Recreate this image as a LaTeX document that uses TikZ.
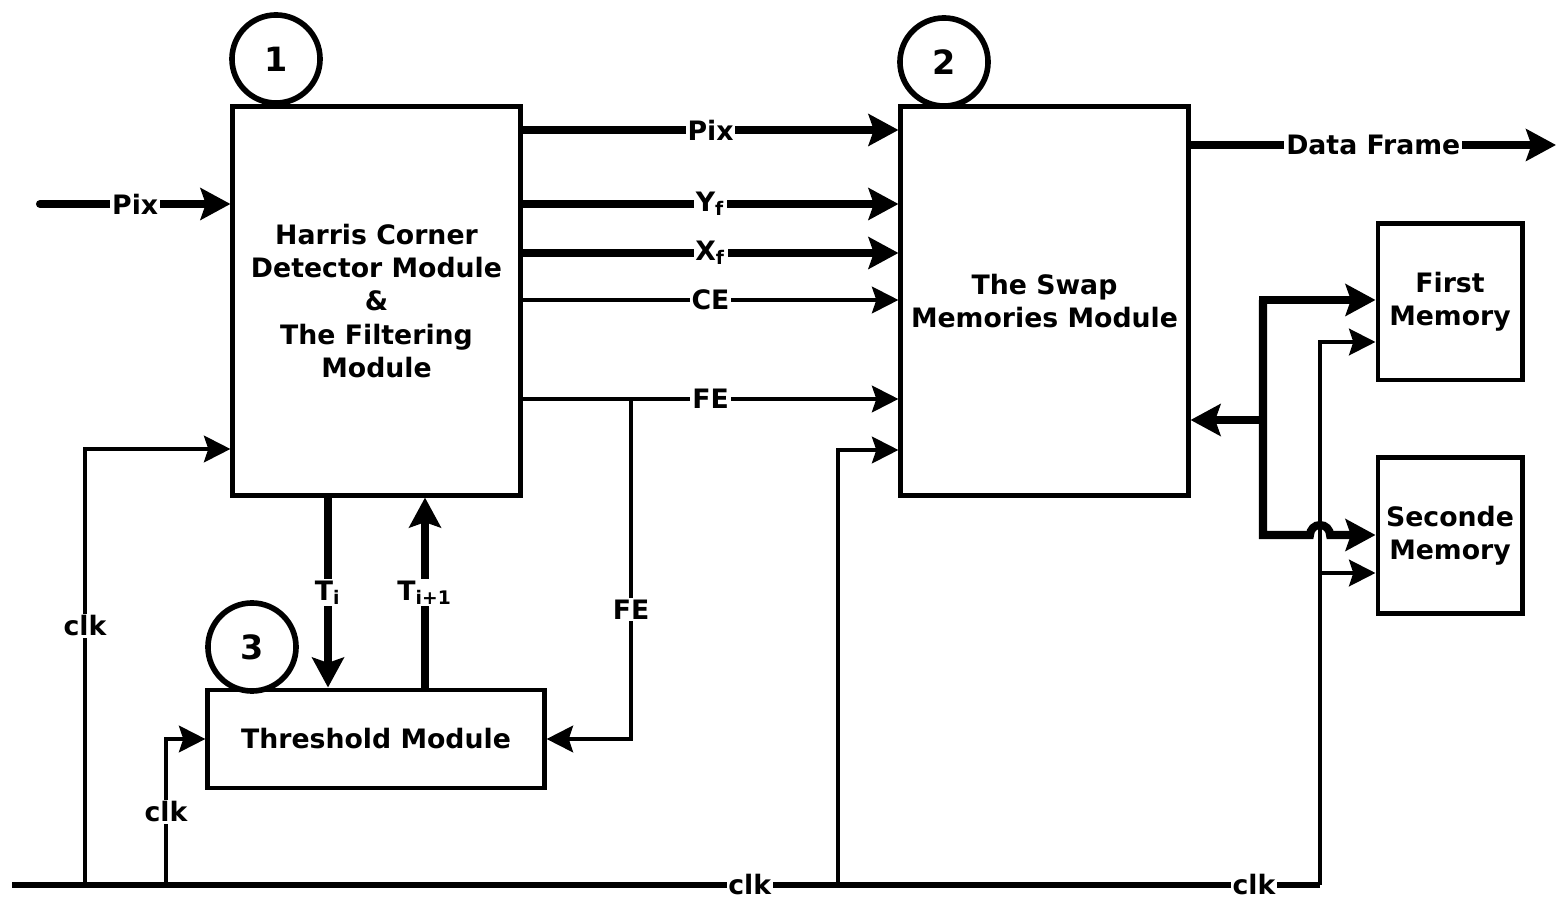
\documentclass[tikz,border=0pt]{standalone}
\usepackage{fontspec}
\setmainfont{DejaVu Sans}
\usetikzlibrary{arrows.meta}

\begin{document}
\begin{tikzpicture}[
  x=0.01cm, y=-0.01cm,
  every node/.style={font=\fontsize{7.6}{9.4}\selectfont\bfseries},
  block/.style={rectangle, draw=black, line width=1.4pt, fill=white, align=center, inner sep=2pt},
  num/.style={circle, draw=black, line width=1.6pt, fill=white, inner sep=0pt, minimum size=0.88cm, font=\fontsize{9.5}{11}\selectfont\bfseries},
  lbl/.style={fill=white, inner sep=0.5pt},
  wire/.style={line width=1.3pt, -{Stealth[length=7.5pt, width=7.5pt, inset=1.2pt]}},
  bus/.style={line width=2.3pt, -{Stealth[length=8.5pt, width=9pt, inset=1.5pt]}},
  clkbus/.style={line width=1.7pt}
]
  \useasboundingbox (0,0) rectangle (1558,898);

  \node[block, minimum width=2.87cm, minimum height=3.88cm] (harris) at (376.5,301) {Harris Corner\\Detector Module\\\&\\The Filtering\\Module};
  \node[block, minimum width=2.87cm, minimum height=3.88cm] (swap) at (1044.5,301) {The Swap\\Memories Module};
  \node[block, minimum width=3.36cm, minimum height=0.98cm] (thresh) at (376,739) {Threshold Module};
  \node[block, minimum width=1.44cm, minimum height=1.56cm] (mem1) at (1450,302) {First\\Memory};
  \node[block, minimum width=1.44cm, minimum height=1.55cm] (mem2) at (1450,535.5) {Seconde\\Memory};

  \node[num] (n1) at (276,59) {1};
  \node[num] (n2) at (944,62) {2};
  \node[num] (n3) at (252,647) {3};

  \coordinate (pixin) at (40,204);
  \coordinate (dfout) at (1556,145);
  \coordinate (fesplit) at (631,399);
  \coordinate (clkstart) at (12,885);
  \coordinate (clkend) at (1320,885);
  \coordinate (clka) at (85,885);
  \coordinate (clkb) at (166,885);
  \coordinate (clkc) at (838,885);
  \coordinate (mbus) at (1263,420);

  % inputs and outputs
  \draw[bus, line cap=round] (pixin) -- node[lbl] {Pix} (harris.west |- pixin);
  \draw[bus] (swap.east |- dfout) -- node[lbl] {Data Frame} (dfout);

  % harris -> swap
  \draw[bus] (harris.east |- 0,130) -- node[lbl] {Pix} (swap.west |- 0,130);
  \draw[bus] (harris.east |- 0,204) -- node[lbl] {Y\textsubscript{f}} (swap.west |- 0,204);
  \draw[bus] (harris.east |- 0,253) -- node[lbl] {X\textsubscript{f}} (swap.west |- 0,253);
  \draw[wire] (harris.east |- 0,300) -- node[lbl] {CE} (swap.west |- 0,300);
  \draw[wire] (harris.east |- fesplit) -- node[lbl] {FE} (swap.west |- fesplit);
  \draw[wire] (fesplit) -- node[lbl, pos=0.62] {FE} (fesplit |- thresh.east) -- (thresh.east);

  % threshold loop
  \draw[bus] (harris.south -| 328,0) -- node[lbl] {T\textsubscript{i}} (thresh.north -| 328,0);
  \draw[bus] (thresh.north -| 425,0) -- node[lbl] {T\textsubscript{i+1}} (harris.south -| 425,0);

  % clock
  \draw[clkbus] (clkstart) -- node[lbl, pos=0.564] {clk} node[lbl, pos=0.9495] {clk} (clkend);
  \draw[wire] (clka) -- node[lbl, pos=0.594] {clk} (clka |- 0,449) -- (harris.west |- 0,449);
  \draw[wire] (clkb) -- node[lbl] {clk} (clkb |- thresh.west) -- (thresh.west);
  \draw[wire] (clkc) |- (swap.west |- 0,450);
  \draw[wire] (clkend) |- (mem1.west |- 0,342);
  \draw[wire] (clkend |- 0,573) -- (mem2.west |- 0,573);

  % memory bus
  \draw[bus] (mbus) -- (swap.east |- mbus);
  \draw[bus] (mbus |- 0,535) -- (mbus |- 0,300) -- (mem1.west |- 0,300);
  \draw[bus] (mbus |- 0,300) -- (mbus |- 0,535) -- (1310,535) arc[start angle=180, end angle=0, radius=0.1cm] -- (mem2.west |- 0,535);

\end{tikzpicture}
\end{document}
